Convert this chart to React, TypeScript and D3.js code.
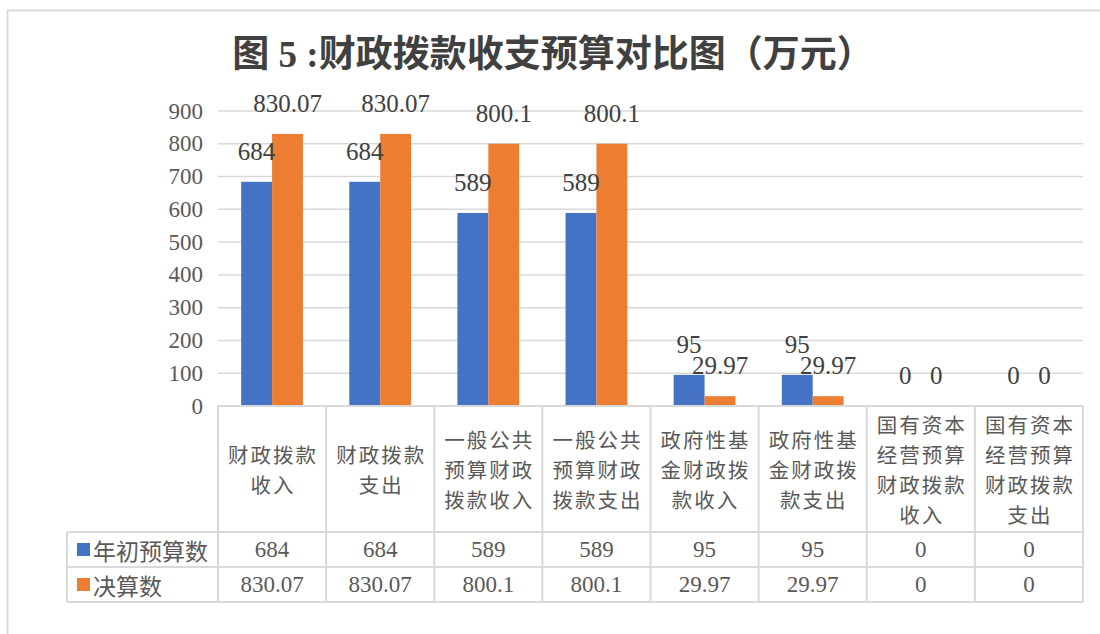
import React from "react";
import * as d3 from "d3";

const title = "图 5 :财政拨款收支预算对比图（万元）";
const categories = [
  "财政拨款收入",
  "财政拨款支出",
  "一般公共预算财政拨款收入",
  "一般公共预算财政拨款支出",
  "政府性基金财政拨款收入",
  "政府性基金财政拨款支出",
  "国有资本经营预算财政拨款收入",
  "国有资本经营预算财政拨款支出",
];
const categoryLines = [
  ["财政拨款", "收入"],
  ["财政拨款", "支出"],
  ["一般公共", "预算财政", "拨款收入"],
  ["一般公共", "预算财政", "拨款支出"],
  ["政府性基", "金财政拨", "款收入"],
  ["政府性基", "金财政拨", "款支出"],
  ["国有资本", "经营预算", "财政拨款", "收入"],
  ["国有资本", "经营预算", "财政拨款", "支出"],
];
const seriesNames = ["年初预算数", "决算数"];
const budgetValues = [684, 684, 589, 589, 95, 95, 0, 0];
const finalValues = [830.07, 830.07, 800.1, 800.1, 29.97, 29.97, 0, 0];
const budgetLabels = ["684", "684", "589", "589", "95", "95", "0", "0"];
const finalLabels = ["830.07", "830.07", "800.1", "800.1", "29.97", "29.97", "0", "0"];
const yTicks = [0, 100, 200, 300, 400, 500, 600, 700, 800, 900];
const seriesColors = ["#4472C4", "#ED7D31"];

const W = 1100;
const H = 634;
const plotLeft = 218;
const plotRight = 1083;
const plotTop = 111;
const plotBottom = 406;
const headerBottom = 532;
const rowH = 35;
const legendLeft = 67;

const SERIF = '"Liberation Serif", "Times New Roman", serif';
const MIXED = '"Liberation Serif", "Noto Sans CJK SC", serif';
const CJK = '"Noto Sans CJK SC", sans-serif';
const GRID = "#d9d9d9";
const TEXT = "#595959";

export default function App() {
  const x0 = d3.scaleBand<string>().domain(categories).range([plotLeft, plotRight]).padding(0);
  const x1 = d3
    .scaleBand<string>()
    .domain(seriesNames)
    .range([0, x0.bandwidth()])
    .paddingInner(0)
    .paddingOuter(0.75);
  const y = d3.scaleLinear().domain([0, 900]).range([plotBottom, plotTop]);

  const seriesData = [
    { name: seriesNames[0], values: budgetValues, labels: budgetLabels, color: seriesColors[0] },
    { name: seriesNames[1], values: finalValues, labels: finalLabels, color: seriesColors[1] },
  ];

  const headerCenter = (plotBottom + headerBottom) / 2;
  const lineH = 29.8;

  return (
    <svg
      width={W}
      height={H}
      style={{ position: "absolute", left: 0, top: 0, display: "block", background: "#fff" }}
    >
      {/* outer frame */}
      <rect x={7.5} y={10.5} width={W + 20} height={H + 20} fill="none" stroke={GRID} strokeWidth={2} />

      {/* title */}
      <text
        x={553}
        y={67}
        textAnchor="middle"
        style={{ fontFamily: MIXED, fontSize: 37, fontWeight: "bold" }}
        fill="#404040"
      >
        {title}
      </text>

      {/* gridlines */}
      {yTicks.map((t) => (
        <line
          key={"g" + t}
          x1={plotLeft}
          x2={plotRight}
          y1={y(t)}
          y2={y(t)}
          stroke={GRID}
          strokeWidth={1.5}
        />
      ))}

      {/* y-axis labels */}
      {yTicks.map((t) => (
        <text
          key={"yl" + t}
          x={203}
          y={y(t)}
          textAnchor="end"
          dominantBaseline="central"
          style={{ fontFamily: SERIF, fontSize: 23 }}
          fill={TEXT}
        >
          {t}
        </text>
      ))}

      {/* bars */}
      {seriesData.map((s) =>
        categories.map((c, i) => {
          const bx = (x0(c) as number) + (x1(s.name) as number);
          const by = y(s.values[i]);
          return (
            <rect
              key={s.name + c}
              x={bx}
              y={by}
              width={x1.bandwidth()}
              height={plotBottom - by}
              fill={s.color}
            />
          );
        })
      )}

      {/* data labels */}
      {seriesData.map((s) =>
        categories.map((c, i) => {
          const bx = (x0(c) as number) + (x1(s.name) as number) + x1.bandwidth() / 2;
          const by = y(s.values[i]);
          return (
            <text
              key={"dl" + s.name + c}
              x={bx}
              y={by - 22}
              textAnchor="middle"
              style={{ fontFamily: SERIF, fontSize: 25 }}
              fill="#404040"
            >
              {s.labels[i]}
            </text>
          );
        })
      )}

      {/* data table borders */}
      <line x1={plotLeft} x2={plotRight} y1={plotBottom} y2={plotBottom} stroke={GRID} strokeWidth={2} />
      {[0, 1, 2].map((r) => (
        <line
          key={"hr" + r}
          x1={legendLeft}
          x2={plotRight}
          y1={headerBottom + r * rowH}
          y2={headerBottom + r * rowH}
          stroke={GRID}
          strokeWidth={2}
        />
      ))}
      <line
        x1={legendLeft}
        x2={legendLeft}
        y1={headerBottom}
        y2={headerBottom + 2 * rowH}
        stroke={GRID}
        strokeWidth={2}
      />
      {categories.map((c) => (
        <line
          key={"vl" + c}
          x1={x0(c) as number}
          x2={x0(c) as number}
          y1={plotBottom}
          y2={headerBottom + 2 * rowH}
          stroke={GRID}
          strokeWidth={2}
        />
      ))}
      <line
        x1={plotRight}
        x2={plotRight}
        y1={plotBottom}
        y2={headerBottom + 2 * rowH}
        stroke={GRID}
        strokeWidth={2}
      />

      {/* category header text, one text per wrapped line */}
      {categories.map((c, i) => {
        const lines = categoryLines[i];
        const cx = (x0(c) as number) + x0.bandwidth() / 2 + 1;
        return lines.map((ln, j) => (
          <text
            key={"ct" + c + j}
            x={cx}
            y={headerCenter + (j - (lines.length - 1) / 2) * lineH}
            textAnchor="middle"
            dominantBaseline="central"
            style={{ fontFamily: CJK, fontSize: 20.5, letterSpacing: 2 }}
            fill={TEXT}
          >
            {ln}
          </text>
        ));
      })}

      {/* legend + values rows */}
      {seriesData.map((s, r) => {
        const cy = headerBottom + r * rowH + rowH / 2;
        return (
          <g key={"row" + s.name}>
            <rect x={77} y={cy - 6.5} width={13} height={13} fill={s.color} />
            <text
              x={93}
              y={cy}
              dominantBaseline="central"
              style={{ fontFamily: CJK, fontSize: 23 }}
              fill={TEXT}
            >
              {s.name}
            </text>
            {categories.map((c, i) => (
              <text
                key={"v" + c}
                x={(x0(c) as number) + x0.bandwidth() / 2}
                y={cy}
                textAnchor="middle"
                dominantBaseline="central"
                style={{ fontFamily: SERIF, fontSize: 23 }}
                fill={TEXT}
              >
                {s.labels[i]}
              </text>
            ))}
          </g>
        );
      })}
    </svg>
  );
}
